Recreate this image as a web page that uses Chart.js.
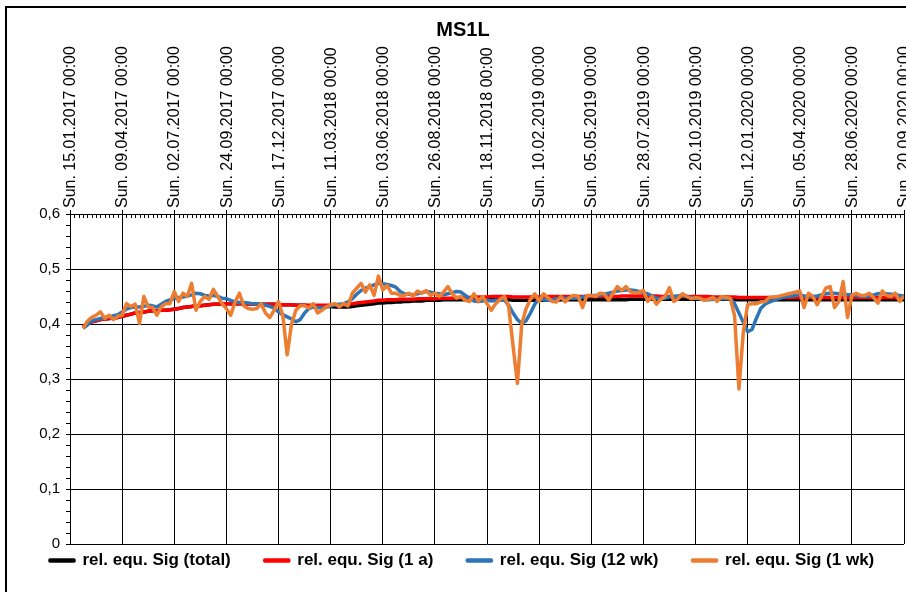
<!DOCTYPE html>
<html>
<head>
<meta charset="utf-8">
<title>MS1L</title>
<script src="https://cdn.jsdelivr.net/npm/chart.js@4.4.1/dist/chart.umd.min.js"></script>
<style>
  html, body { margin: 0; padding: 0; background: #fff; overflow: hidden; }
  /* Rahmen des Diagramms (rechts/unten ausserhalb des Bildes) */
  #rahmen { position: absolute; left: 5px; top: 6px; width: 1000px; height: 1000px; border: 2px solid #000; }
  #wrap { position: absolute; left: 0; top: 0; width: 906px; height: 592px; }
</style>
</head>
<body>
<div id="rahmen"></div>
<div id="wrap"><canvas id="chart"></canvas></div>
<script>
// ── Achsenbeschriftung (alle 12 Wochen) ───────
const tickLabels = [
  'Sun. 15.01.2017 00:00', 'Sun. 09.04.2017 00:00', 'Sun. 02.07.2017 00:00',
  'Sun. 24.09.2017 00:00', 'Sun. 17.12.2017 00:00', 'Sun. 11.03.2018 00:00',
  'Sun. 03.06.2018 00:00', 'Sun. 26.08.2018 00:00', 'Sun. 18.11.2018 00:00',
  'Sun. 10.02.2019 00:00', 'Sun. 05.05.2019 00:00', 'Sun. 28.07.2019 00:00',
  'Sun. 20.10.2019 00:00', 'Sun. 12.01.2020 00:00', 'Sun. 05.04.2020 00:00',
  'Sun. 28.06.2020 00:00', 'Sun. 20.09.2020 00:00'
]
const WOCHEN_PRO_TICK = 12
const ersteWoche = 3   // erste Messung: 3 Wochen nach 15.01.2017

// ── Messwerte (wöchentlich) ───────────────────
const sig1wk = [
  0.392, 0.405, 0.412, 0.416, 0.422, 0.410, 0.416, 0.408, 0.414,
  0.416, 0.437, 0.432, 0.436, 0.401, 0.450, 0.431, 0.430, 0.416, 0.431, 0.437, 0.437,
  0.459, 0.441, 0.456, 0.450, 0.474, 0.425, 0.441, 0.450, 0.445, 0.463, 0.450, 0.437,
  0.428, 0.416, 0.440, 0.456, 0.433, 0.428, 0.427, 0.428, 0.437, 0.420, 0.412, 0.425,
  0.441, 0.415, 0.344, 0.400, 0.425, 0.433, 0.433, 0.429, 0.437, 0.420, 0.425, 0.431,
  0.435, 0.437, 0.431, 0.437, 0.433, 0.456, 0.465, 0.474, 0.458, 0.471, 0.452, 0.487,
  0.462, 0.470, 0.456, 0.456, 0.452, 0.452, 0.456, 0.451, 0.460, 0.456, 0.461, 0.452,
  0.456, 0.450, 0.458, 0.468, 0.455, 0.447, 0.450, 0.443, 0.441, 0.455, 0.441, 0.450,
  0.437, 0.425, 0.437, 0.445, 0.450, 0.431, 0.360, 0.292, 0.400, 0.428, 0.445, 0.455,
  0.441, 0.455, 0.448, 0.441, 0.440, 0.450, 0.440, 0.448, 0.452, 0.450, 0.430, 0.452,
  0.452, 0.450, 0.456, 0.455, 0.443, 0.456, 0.468, 0.461, 0.468, 0.459, 0.456, 0.458,
  0.461, 0.441, 0.450, 0.436, 0.445, 0.450, 0.466, 0.441, 0.446, 0.455, 0.450, 0.446,
  0.448, 0.447, 0.443, 0.445, 0.448, 0.441, 0.450, 0.448, 0.447, 0.415, 0.282, 0.385,
  0.435, 0.437, 0.437, 0.440, 0.441, 0.448, 0.449, 0.450, 0.452, 0.454, 0.456, 0.458,
  0.460, 0.430, 0.456, 0.450, 0.435, 0.450, 0.465, 0.468, 0.430, 0.441, 0.477, 0.412,
  0.452, 0.456, 0.452, 0.452, 0.456, 0.448, 0.438, 0.460, 0.452, 0.450, 0.456, 0.441, 0.451
]

const sig12wk = [
  0.392, 0.398, 0.406, 0.408, 0.410, 0.412, 0.413, 0.415, 0.417,
  0.422, 0.427, 0.430, 0.431, 0.431, 0.432, 0.434, 0.433, 0.431, 0.436, 0.441, 0.444,
  0.446, 0.448, 0.449, 0.451, 0.453, 0.456, 0.455, 0.452, 0.451, 0.452, 0.450, 0.447,
  0.446, 0.443, 0.440, 0.439, 0.439, 0.438, 0.437, 0.437, 0.437, 0.434, 0.432, 0.429,
  0.422, 0.417, 0.413, 0.409, 0.404, 0.408, 0.420, 0.428, 0.431, 0.430, 0.429, 0.431,
  0.433, 0.435, 0.436, 0.437, 0.440, 0.446, 0.454, 0.461, 0.465, 0.468, 0.471, 0.474,
  0.473, 0.472, 0.470, 0.467, 0.459, 0.455, 0.454, 0.453, 0.455, 0.457, 0.459, 0.458,
  0.456, 0.455, 0.453, 0.455, 0.457, 0.459, 0.458, 0.452, 0.446, 0.442, 0.441, 0.442,
  0.443, 0.442, 0.443, 0.443, 0.444, 0.434, 0.420, 0.408, 0.401, 0.406, 0.420, 0.436,
  0.446, 0.444, 0.443, 0.444, 0.446, 0.447, 0.447, 0.447, 0.447, 0.447, 0.449, 0.451,
  0.452, 0.452, 0.452, 0.454, 0.456, 0.458, 0.460, 0.461, 0.462, 0.462, 0.461, 0.459,
  0.457, 0.455, 0.451, 0.447, 0.446, 0.447, 0.449, 0.450, 0.451, 0.452, 0.450, 0.448,
  0.447, 0.446, 0.444, 0.444, 0.445, 0.446, 0.446, 0.446, 0.446, 0.437, 0.420, 0.403,
  0.386, 0.390, 0.410, 0.428, 0.436, 0.440, 0.443, 0.446, 0.448, 0.450, 0.451, 0.452,
  0.453, 0.451, 0.450, 0.450, 0.451, 0.453, 0.455, 0.456, 0.456, 0.455, 0.455, 0.453,
  0.453, 0.452, 0.451, 0.450, 0.451, 0.453, 0.455, 0.456, 0.455, 0.454, 0.453, 0.452, 0.451
]

const sig1a = [
  0.395, 0.400, 0.404, 0.406, 0.408, 0.409, 0.410, 0.411, 0.412,
  0.414, 0.416, 0.418, 0.420, 0.421, 0.422, 0.423, 0.424, 0.424, 0.425, 0.425, 0.426,
  0.427, 0.428, 0.430, 0.431, 0.432, 0.433, 0.433, 0.434, 0.435, 0.436, 0.436, 0.437,
  0.437, 0.437, 0.437, 0.437, 0.437, 0.436, 0.436, 0.436, 0.436, 0.436, 0.436, 0.436,
  0.435, 0.435, 0.435, 0.435, 0.434, 0.434, 0.434, 0.434, 0.434, 0.434, 0.434, 0.434,
  0.434, 0.435, 0.435, 0.435, 0.436, 0.437, 0.438, 0.439, 0.440, 0.441, 0.442, 0.443,
  0.443, 0.444, 0.444, 0.444, 0.445, 0.445, 0.445, 0.445, 0.446, 0.446, 0.446, 0.446,
  0.446, 0.447, 0.447, 0.447, 0.447, 0.448, 0.448, 0.448, 0.448, 0.449, 0.449, 0.449,
  0.449, 0.450, 0.450, 0.450, 0.450, 0.450, 0.449, 0.449, 0.449, 0.449, 0.449, 0.449,
  0.449, 0.449, 0.450, 0.450, 0.450, 0.450, 0.450, 0.450, 0.450, 0.450, 0.450, 0.450,
  0.450, 0.450, 0.450, 0.450, 0.450, 0.450, 0.450, 0.451, 0.451, 0.451, 0.451, 0.451,
  0.451, 0.451, 0.451, 0.451, 0.450, 0.450, 0.450, 0.450, 0.450, 0.450, 0.450, 0.450,
  0.450, 0.450, 0.450, 0.450, 0.449, 0.449, 0.449, 0.449, 0.449, 0.449, 0.448, 0.448,
  0.448, 0.448, 0.448, 0.448, 0.448, 0.448, 0.448, 0.448, 0.448, 0.448, 0.448, 0.448,
  0.448, 0.448, 0.448, 0.448, 0.448, 0.448, 0.448, 0.448, 0.448, 0.448, 0.448, 0.448,
  0.448, 0.448, 0.448, 0.448, 0.448, 0.448, 0.448, 0.448, 0.448, 0.448, 0.448, 0.448, 0.448
]

const sigTotal = [
  0.395, 0.400, 0.404, 0.406, 0.408, 0.409, 0.410, 0.411, 0.412,
  0.414, 0.416, 0.418, 0.420, 0.421, 0.422, 0.423, 0.424, 0.424, 0.425, 0.425, 0.426,
  0.427, 0.428, 0.430, 0.431, 0.432, 0.433, 0.433, 0.434, 0.435, 0.436, 0.436, 0.437,
  0.437, 0.437, 0.437, 0.437, 0.437, 0.436, 0.436, 0.436, 0.436, 0.436, 0.436, 0.436,
  0.435, 0.435, 0.435, 0.435, 0.434, 0.434, 0.434, 0.433, 0.433, 0.433, 0.432, 0.432,
  0.432, 0.431, 0.431, 0.431, 0.431, 0.432, 0.433, 0.434, 0.435, 0.436, 0.437, 0.438,
  0.438, 0.439, 0.439, 0.440, 0.440, 0.441, 0.441, 0.442, 0.442, 0.442, 0.443, 0.443,
  0.443, 0.443, 0.444, 0.444, 0.444, 0.444, 0.444, 0.444, 0.444, 0.444, 0.444, 0.444,
  0.444, 0.444, 0.444, 0.444, 0.444, 0.444, 0.443, 0.443, 0.443, 0.443, 0.443, 0.443,
  0.443, 0.443, 0.443, 0.443, 0.443, 0.444, 0.444, 0.444, 0.444, 0.444, 0.444, 0.444,
  0.444, 0.444, 0.444, 0.444, 0.444, 0.444, 0.444, 0.444, 0.444, 0.445, 0.445, 0.445,
  0.445, 0.445, 0.445, 0.445, 0.445, 0.445, 0.445, 0.445, 0.445, 0.445, 0.445, 0.445,
  0.445, 0.445, 0.445, 0.445, 0.445, 0.445, 0.445, 0.445, 0.445, 0.444, 0.444, 0.444,
  0.444, 0.444, 0.444, 0.444, 0.444, 0.444, 0.444, 0.444, 0.444, 0.444, 0.444, 0.444,
  0.444, 0.444, 0.444, 0.444, 0.444, 0.444, 0.444, 0.444, 0.444, 0.444, 0.444, 0.444,
  0.444, 0.444, 0.444, 0.444, 0.444, 0.444, 0.444, 0.444, 0.444, 0.444, 0.444, 0.444, 0.444
]

// ── Tema ──────────────────────────────────────
Chart.defaults.font.family = "'Liberation Sans', Arial, sans-serif"
Chart.defaults.color = '#000'

function serie(label, werte, farbe, order) {
  return {
    label,
    data: werte.map((y, k) => ({ x: ersteWoche + k, y })),
    borderColor: farbe,
    backgroundColor: farbe,
    borderWidth: 3.5,
    borderJoinStyle: 'round',
    pointRadius: 0,
    tension: 0,
    order        // orange liegt oben, schwarz unten
  }
}

// Titel, Nebenstriche und Legendenposition
const extras = {
  id: 'extras',
  afterLayout(chart) {
    // Legende etwas näher an die Zeichenfläche (unten nicht beschneiden)
    const lg = chart.legend
    lg.top -= 26
    lg.left += 16; lg.right += 16
  },
  afterDraw(chart) {
    const { ctx, chartArea: a, scales: { x, y } } = chart
    ctx.save()
    ctx.strokeStyle = '#000'
    ctx.lineWidth = 1
    ctx.beginPath()
    for (let w = 1; w < 192; w++) {
      if (w % WOCHEN_PRO_TICK === 0) continue
      const px = Math.round(x.getPixelForValue(w)) + 0.5
      ctx.moveTo(px, a.top)
      ctx.lineTo(px, a.top + 4)
    }
    for (let v = 1; v < 30; v++) {
      if (v % 5 === 0) continue
      const py = Math.round(y.getPixelForValue(v * 0.02)) + 0.5
      ctx.moveTo(a.left - 4, py)
      ctx.lineTo(a.left, py)
    }
    ctx.stroke()

    ctx.fillStyle = '#000'
    ctx.font = "bold 20px 'Liberation Sans', Arial, sans-serif"
    ctx.textAlign = 'center'
    ctx.textBaseline = 'middle'
    ctx.fillText('MS1L', 463, 30)
    ctx.restore()
  }
}

new Chart(document.getElementById('chart'), {
  type: 'line',
  data: {
    datasets: [
      serie('rel. equ. Sig (total)', sigTotal, '#000000', 4),
      serie('rel. equ. Sig (1 a)', sig1a, '#FF0000', 3),
      serie('rel. equ. Sig (12 wk)', sig12wk, '#2E75B6', 2),
      serie('rel. equ. Sig (1 wk)', sig1wk, '#ED7D31', 1)
    ]
  },
  options: {
    animation: false,
    responsive: true,
    maintainAspectRatio: false,
    layout: { padding: { top: 40, left: 0, right: 2, bottom: 0 } },
    plugins: {
      tooltip: { enabled: false },
      legend: {
        position: 'bottom',
        align: 'start',
        maxHeight: 48,
        labels: {
          boxWidth: 24,
          boxHeight: 1,
          padding: 34,
          font: { size: 17, weight: 'bold' },
          sort: (a, b) => a.datasetIndex - b.datasetIndex
        }
      }
    },
    scales: {
      x: {
        type: 'linear',
        position: 'top',
        min: 0,
        max: 192,
        afterBuildTicks: s => { s.ticks = tickLabels.map((_, k) => ({ value: k * WOCHEN_PRO_TICK })) },
        afterFit: s => { s.height = 174; s.paddingLeft = 0; s.paddingRight = 0 },
        ticks: {
          autoSkip: false,
          minRotation: 90,
          maxRotation: 90,
          padding: 2,
          labelOffset: 20,
          font: { size: 16 },
          callback: v => tickLabels[Math.round(v / WOCHEN_PRO_TICK)]
        },
        grid: { color: '#000', tickLength: 4 },
        border: { color: '#000' }
      },
      y: {
        min: 0,
        max: 0.6,
        afterFit: s => { s.width = 70; s.paddingTop = 0; s.paddingBottom = 0 },
        ticks: {
          stepSize: 0.1,
          padding: 6,
          font: { size: 15 },
          callback: v => v === 0 ? '0' : v.toFixed(1).replace('.', ',')
        },
        grid: { color: '#000', tickLength: 4 },
        border: { color: '#000' }
      }
    }
  },
  plugins: [extras]
})
</script>
</body>
</html>
